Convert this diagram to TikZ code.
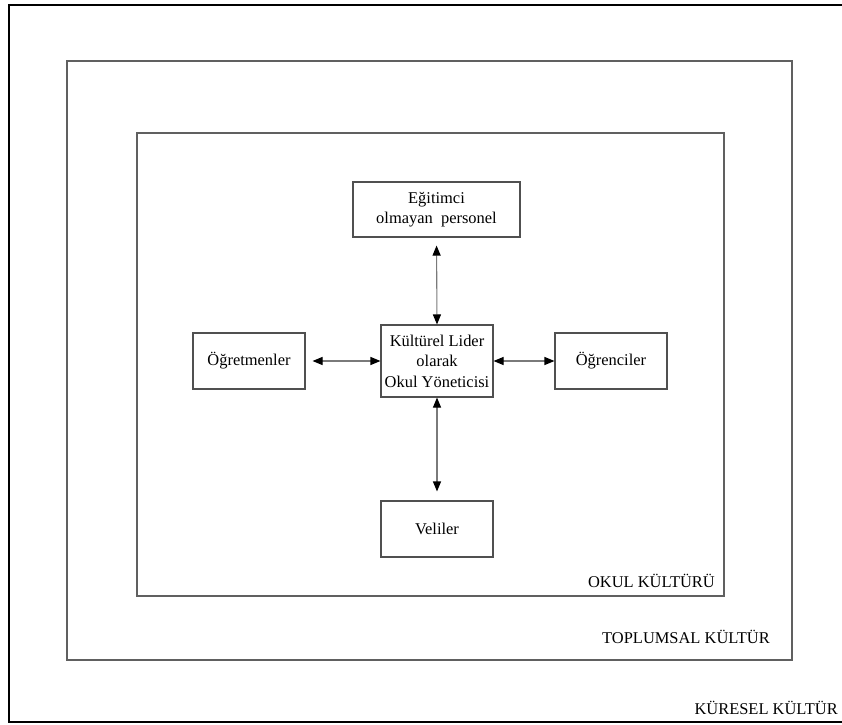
\documentclass[tikz,border=0pt]{standalone}
\usepackage{fontspec}
\setmainfont{Liberation Serif}
\usetikzlibrary{arrows.meta}
\definecolor{framegray}{HTML}{606060}
\definecolor{boxgray}{HTML}{505050}
\definecolor{arrgray}{HTML}{7A7A7A}
\begin{document}
\begin{tikzpicture}[x=1bp,y=-1bp,
  every node/.style={font=\fontsize{16.5}{20.5}\selectfont, inner sep=0pt},
  box/.style={draw=boxgray, line width=1.1bp, align=center, minimum height=56bp},
  frame/.style={draw=framegray, line width=1.5bp},
  conn/.style={draw=arrgray, line width=1.1bp, {Triangle[length=10bp,width=8bp,color=black]}-{Triangle[length=10bp,width=8bp,color=black]}},
  lbl/.style={anchor=base east}]
\useasboundingbox (0,0) rectangle (842,725);
\clip (0,0) rectangle (842,725);
\fill[white] (0,0) rectangle (842,725);
% outer frame (open to the right)
\draw[black, line width=2.5bp] (850,5) -- (9,5) -- (9,722) -- (850,722);
% middle and inner frames
\draw[frame] (67,61) rectangle (792,660);
\draw[frame] (137,133) rectangle (724,596);
% frame labels
\node[lbl] (kuresel) at (838,714) {KÜRESEL KÜLTÜR};
\node[lbl] (toplumsal) at (770,643) {TOPLUMSAL KÜLTÜR};
\node[lbl] (okul) at (715,587) {OKUL KÜLTÜRÜ};
% boxes
\node[box, minimum width=167bp, minimum height=55bp] (egit) at (436.5,209.5) {Eğitimci\\olmayan\ \ personel};
\node[box, minimum width=112bp, minimum height=72bp] (lider) at (437,361) {Kültürel Lider\\olarak\\Okul Yöneticisi};
\node[box, minimum width=112bp] (ogretmen) at (249,361) {Öğretmenler};
\node[box, minimum width=112bp] (ogrenci) at (611,361) {Öğrenciler};
\node[box, minimum width=112bp] (veli) at (437,529) {Veliler};
% connectors
\draw[conn, shorten <=8bp] (egit.south) -- (lider.north);
\draw[conn, shorten >=9bp] (lider.south) -- (veli.north);
\draw[conn, shorten <=7bp] (ogretmen.east) -- (lider.west);
\draw[conn] (lider.east) -- (ogrenci.west);
\end{tikzpicture}
\end{document}
